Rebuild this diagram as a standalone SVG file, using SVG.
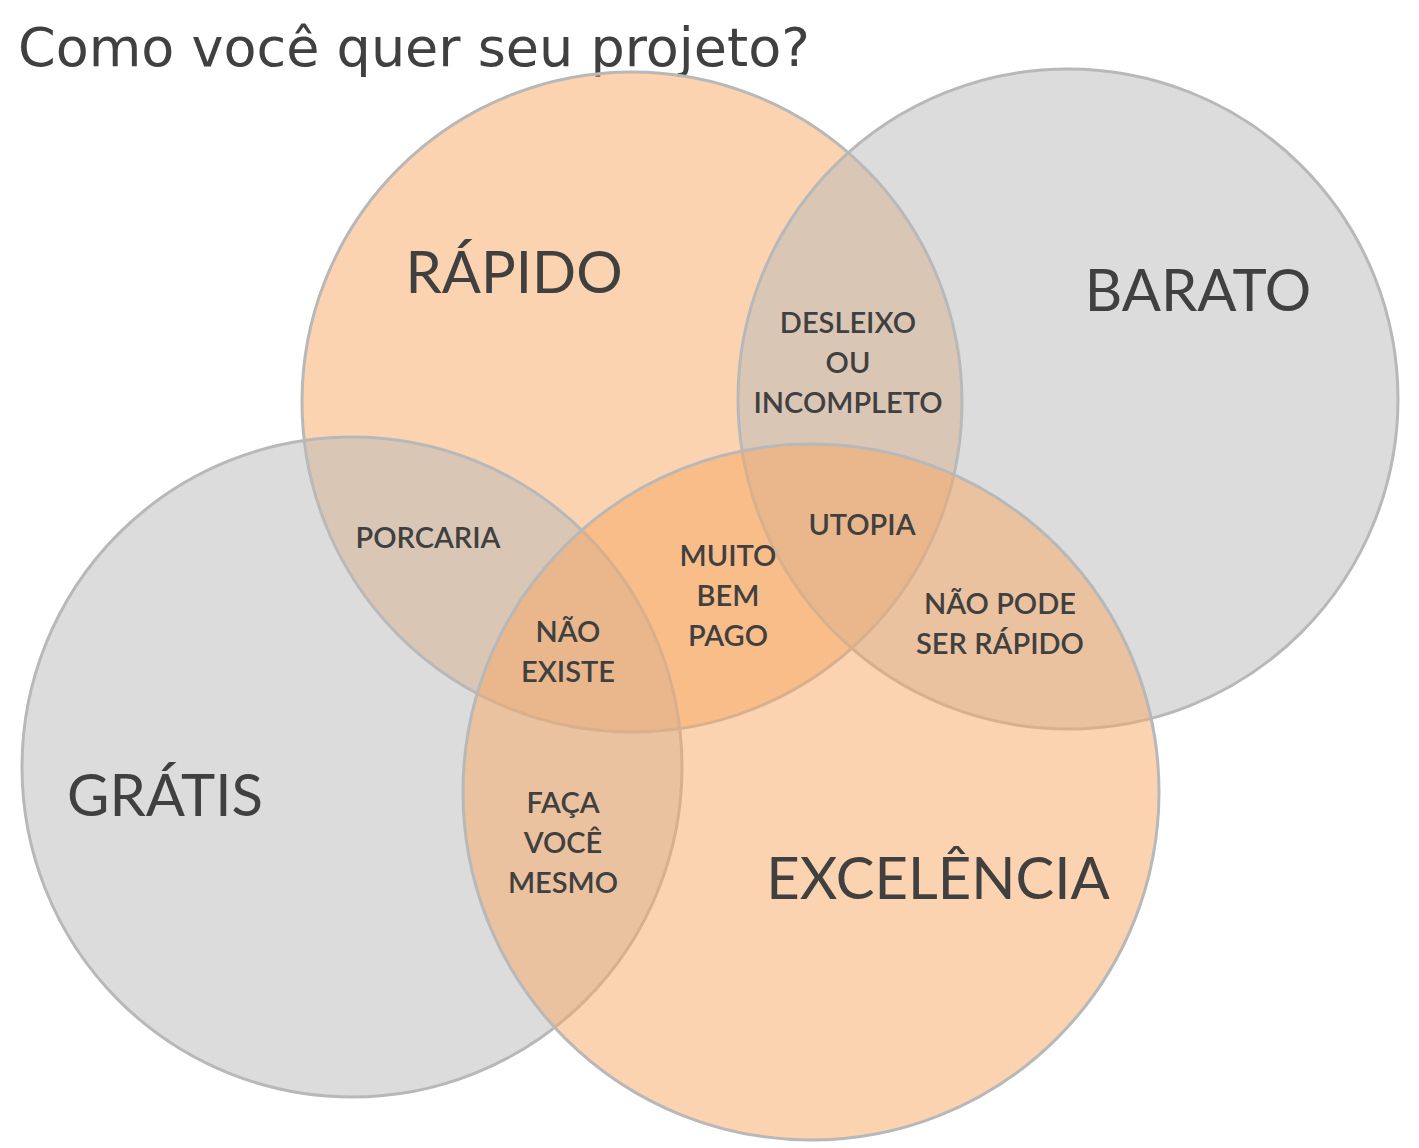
<svg xmlns="http://www.w3.org/2000/svg" width="1419" height="1148" viewBox="0 0 1419 1148">
<style>
.o{fill:rgb(247,167,97);fill-opacity:0.5;stroke:#b8b8b8;stroke-width:3}
.g{fill:rgb(185,185,185);fill-opacity:0.5;stroke:#b8b8b8;stroke-width:3}
text{fill:#404040;font-family:Lato,"Open Sans",sans-serif;text-anchor:middle}
.big{font-size:58px}
.sm{font-size:29px;font-weight:600}
</style>
<rect width="1419" height="1148" fill="#fff"/>
<text x="18" y="66" style="text-anchor:start;font-family:'DejaVu Sans',sans-serif;font-size:54px">Como você quer seu projeto?</text>
<g id="rapido"><circle class="o" cx="632" cy="402" r="330"/></g>
<g id="barato"><circle class="g" cx="1068" cy="399" r="330"/></g>
<g id="gratis"><circle class="g" cx="352" cy="767" r="330"/></g>
<g id="excelencia"><circle class="o" cx="811" cy="792" r="348"/></g>
<g id="labels">
<text class="big" x="514" y="293">RÁPIDO</text>
<text class="big" x="1198" y="311">BARATO</text>
<text class="big" x="165" y="816">GRÁTIS</text>
<text class="big" x="938" y="899">EXCELÊNCIA</text>
<text class="sm" x="848" y="333">DESLEIXO</text>
<text class="sm" x="848" y="373">OU</text>
<text class="sm" x="848" y="413">INCOMPLETO</text>
<text class="sm" x="428" y="548">PORCARIA</text>
<text class="sm" x="862" y="535">UTOPIA</text>
<text class="sm" x="728" y="566">MUITO</text>
<text class="sm" x="728" y="606">BEM</text>
<text class="sm" x="728" y="646">PAGO</text>
<text class="sm" x="568" y="642">NÃO</text>
<text class="sm" x="568" y="682">EXISTE</text>
<text class="sm" x="1000" y="614">NÃO PODE</text>
<text class="sm" x="1000" y="654">SER RÁPIDO</text>
<text class="sm" x="563" y="813">FAÇA</text>
<text class="sm" x="563" y="853">VOCÊ</text>
<text class="sm" x="563" y="893">MESMO</text>
</g>
</svg>
